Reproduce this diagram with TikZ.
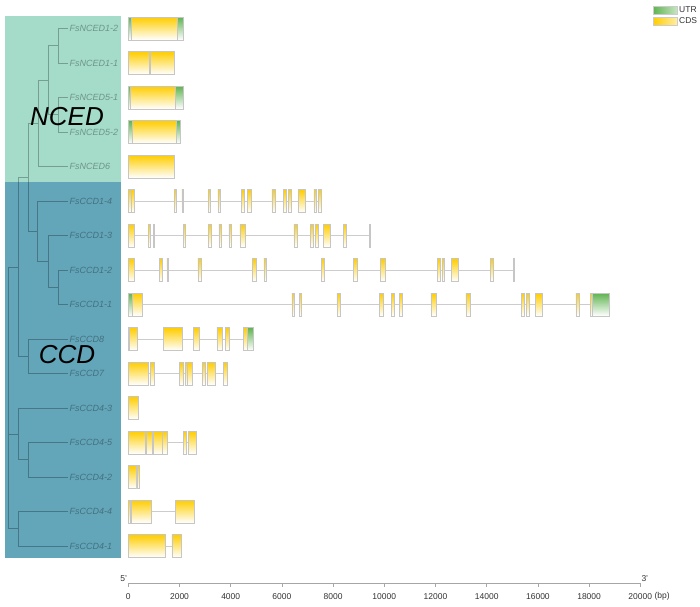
\documentclass[tikz,border=0pt]{standalone}
\usepackage{fontspec}
\setmainfont{Liberation Sans}
\definecolor{ncedbg}{RGB}{164,219,201}
\definecolor{ccdbg}{RGB}{99,166,186}
\definecolor{cdsyellow}{RGB}{255,205,0}
\definecolor{utrgreen}{RGB}{95,180,80}
\tikzset{
  cds/.style={draw=gray!45,line width=0.5pt,top color=cdsyellow,bottom color=white},
  utr/.style={draw=gray!45,line width=0.5pt,top color=utrgreen,bottom color=white},
  intron/.style={draw=gray!40,line width=0.7pt},
  tree/.style={draw=black,opacity=0.28,line width=0.6pt},
  lab/.style={anchor=west,inner sep=1.5pt,text opacity=0.32,
    font=\fontsize{9}{10}\selectfont\itshape},
  group/.style={font=\fontsize{26}{28}\selectfont\itshape},
  ticklab/.style={font=\fontsize{8.5}{9}\selectfont,text=black!80,inner sep=1pt}
}
% one gene: row, end (kb), list of exons start/end/type
\newcommand{\gene}[3]{%
  \draw[intron] (0,{28.5+34.5*#1}) -- (#2,{28.5+34.5*#1});
  \foreach \a/\b/\t in {#3}{%
    \draw[\t] (\a,{28.5+34.5*#1-11.3}) rectangle (\b,{28.5+34.5*#1+11.3});}}
\begin{document}
\begin{tikzpicture}[x=1pt,y=-1pt]
    \useasboundingbox (0,0) rectangle (700,606);
    % group backgrounds
    \fill[ncedbg] (5,16) rectangle (120.5,182);
    \fill[ccdbg] (5,182) rectangle (120.5,558);
    \node[group] (nced) at (67,117) {NCED};
    \node[group] (ccd) at (67,355) {CCD};
    % gene names
    \foreach \n [count=\i from 0] in {NCED1-2,NCED1-1,NCED5-1,NCED5-2,NCED6,
      CCD1-4,CCD1-3,CCD1-2,CCD1-1,CCD8,CCD7,CCD4-3,CCD4-5,CCD4-2,CCD4-4,CCD4-1}{%
      \node[lab] (g\i) at (68,{28.5+34.5*\i}) {Fs\n};}
    % tree
    \coordinate (nced1) at (58,45.75);
    \coordinate (nced5) at (58,114.75);
    \coordinate (na) at (48,80.25);
    \coordinate (nb) at (38,123.4);
    \coordinate (ccd1a) at (58,287.25);
    \coordinate (ccd1b) at (48,261.4);
    \coordinate (ccd1c) at (37,231.2);
    \coordinate (nc) at (28,177.3);
    \coordinate (ccd78) at (28,356.25);
    \coordinate (nd) at (18,266.8);
    \coordinate (ccd4a) at (28,459.75);
    \coordinate (ccd4b) at (18,433.9);
    \coordinate (ccd4c) at (18,528.75);
    \coordinate (root) at (8,397.8);
    \draw[tree] (nced1) |- (g0.west) (nced1) |- (g1.west)
      (nced5) |- (g2.west) (nced5) |- (g3.west)
      (na) |- (nced1) (na) |- (nced5)
      (nb) |- (na) (nb) |- (g4.west)
      (ccd1a) |- (g7.west) (ccd1a) |- (g8.west)
      (ccd1b) |- (g6.west) (ccd1b) |- (ccd1a)
      (ccd1c) |- (g5.west) (ccd1c) |- (ccd1b)
      (nc) |- (nb) (nc) |- (ccd1c)
      (ccd78) |- (g9.west) (ccd78) |- (g10.west)
      (nd) |- (nc) (nd) |- (ccd78)
      (ccd4a) |- (g12.west) (ccd4a) |- (g13.west)
      (ccd4b) |- (g11.west) (ccd4b) |- (ccd4a)
      (ccd4c) |- (g14.west) (ccd4c) |- (g15.west)
      (root) |- (nd) (root) |- (ccd4b) (root) |- (ccd4c);
    % gene structures (x in kb)
    \begin{scope}[shift={(128.3,0)},x=25.6pt]
      \gene{0}{2.13}{0/0.13/utr,0.13/1.91/cds,1.91/2.13/utr}
      \gene{1}{1.79}{0/0.81/cds,0.85/1.79/cds}
      \gene{2}{2.13}{0/0.09/utr,0.09/1.84/cds,1.84/2.13/utr}
      \gene{3}{2.03}{0/0.16/utr,0.16/1.89/cds,1.89/2.03/utr}
      \gene{4}{1.79}{0/1.79/cds}
      \gene{5}{7.53}{0/0.11/cds,0.13/0.22/cds,1.79/1.86/cds,2.09/2.13/cds,
        3.13/3.22/cds,3.50/3.58/cds,4.43/4.53/cds,4.64/4.82/cds,5.61/5.74/cds,
        6.07/6.17/cds,6.26/6.37/cds,6.64/6.90/cds,7.25/7.36/cds,7.42/7.53/cds}
      \gene{6}{9.45}{0/0.22/cds,0.77/0.85/cds,0.98/1.03/cds,2.14/2.24/cds,
        3.13/3.23/cds,3.54/3.63/cds,3.93/4.04/cds,4.36/4.57/cds,6.47/6.60/cds,
        7.11/7.23/cds,7.29/7.42/cds,7.61/7.88/cds,8.40/8.53/cds,9.41/9.45/cds}
      \gene{7}{15.07}{0/0.23/cds,1.21/1.32/cds,1.51/1.56/cds,2.72/2.85/cds,
        4.86/4.99/cds,5.30/5.39/cds,7.53/7.64/cds,8.78/8.96/cds,9.86/10.02/cds,
        12.07/12.17/cds,12.25/12.36/cds,12.61/12.88/cds,14.14/14.27/cds,
        15.03/15.07/cds}
      \gene{8}{18.79}{0/0.16/utr,0.16/0.55/cds,6.39/6.48/cds,6.68/6.75/cds,
        8.15/8.28/cds,9.82/9.94/cds,10.29/10.37/cds,10.59/10.72/cds,
        11.82/12.02/cds,13.19/13.36/cds,15.34/15.47/cds,15.54/15.67/cds,
        15.89/16.16/cds,17.48/17.61/cds,18.05/18.13/cds,18.13/18.79/utr}
      \gene{9}{4.87}{0/0.04/utr,0.04/0.35/cds,1.37/2.11/cds,2.55/2.76/cds,
        3.46/3.67/cds,3.80/3.93/cds,4.49/4.64/cds,4.64/4.87/utr}
      \gene{10}{3.88}{0/0.77/cds,0.86/1.00/cds,1.99/2.15/cds,2.21/2.32/cds,
        2.32/2.50/cds,2.89/3.02/cds,3.07/3.40/cds,3.70/3.88/cds}
      \gene{11}{0.39}{0/0.39/cds}
      \gene{12}{2.64}{0/0.68/cds,0.72/0.93/cds,0.98/1.34/cds,1.34/1.52/cds,
        2.15/2.28/cds,2.36/2.64/cds}
      \gene{13}{0.42}{0/0.30/cds,0.33/0.42/cds}
      \gene{14}{2.56}{0/0.08/cds,0.13/0.89/cds,1.83/2.56/cds}
      \gene{15}{2.05}{0/1.43/cds,1.70/2.05/cds}
      % scale bar
      \coordinate (s0) at (0,583);
      \coordinate (s20) at (20,583);
      \draw[gray!70,line width=0.6pt] (s0) -- (s20);
      \foreach \t/\v in {0/0,2/2000,4/4000,6/6000,8/8000,10/10000,
        12/12000,14/14000,16/16000,18/18000,20/20000}{%
        \draw[gray!70,line width=0.6pt] (\t,583) -- (\t,587)
          node[ticklab,below=5pt] (t\t) {\v};}
      \node[ticklab,anchor=south east] (five) at (s0) {5'};
      \node[ticklab,anchor=south west] (three) at (s20) {3'};
      \node[ticklab,anchor=west] (bp) at (t20.east) {(bp)};
    \end{scope}
    % legend
    \draw[gray!40,left color=utrgreen,right color=utrgreen!35] (653,6) rectangle (677,14.5);
    \draw[gray!40,left color=cdsyellow,right color=cdsyellow!35] (653,17) rectangle (677,25);
    \node[ticklab,anchor=west] (lutr) at (678,10) {UTR};
    \node[ticklab,anchor=west] (lcds) at (678,21) {CDS};
\end{tikzpicture}
\end{document}
